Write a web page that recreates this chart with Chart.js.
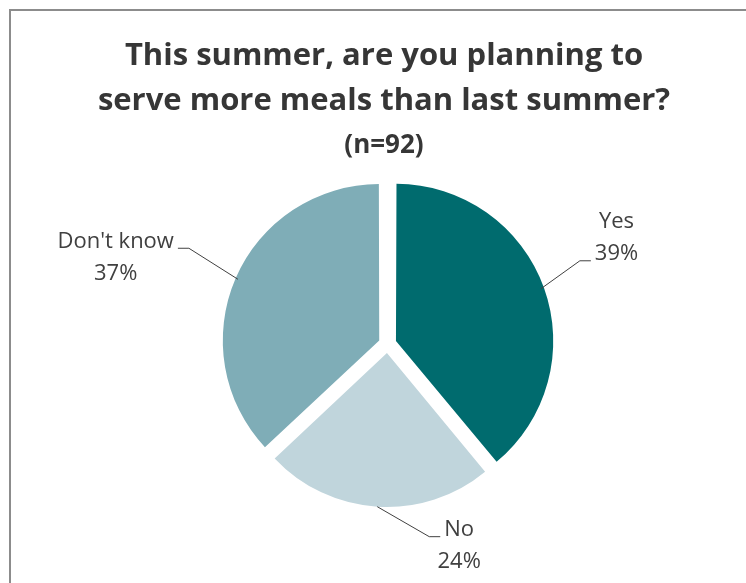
<!DOCTYPE html>
<html>
<head>
<meta charset="utf-8">
<script src="https://cdn.jsdelivr.net/npm/chart.js@4/dist/chart.umd.min.js"></script>
<style>
html, body { margin: 0; padding: 0; background: #fff; }
#wrap { position: relative; width: 746px; height: 583px; overflow: hidden; }
#frame { position: absolute; left: 9px; top: 9px; width: 800px; height: 650px;
         border-left: 2px solid #8c8c8c; border-top: 2px solid #8c8c8c; }
#pieChart { position: absolute; left: 0; top: 0; }
</style>
</head>
<body>
<div id="wrap">
  <div id="frame"></div>
  <canvas id="pieChart" width="746" height="583"></canvas>
</div>
<script>
var labels = ['Yes', 'No', "Don't know"];
var percents = [39, 24, 37];
var colors = ['#006b6e', '#c0d5dc', '#7fadb7'];
var titleLines = ['This summer, are you planning to', 'serve more meals than last summer?'];
var subtitle = '(n=92)';

// where each callout bends, relative to the slice edge, and which text row the line meets
var callouts = [
    { dx: 39, dy: -28, side: 1, row: 1 },
    { dx: 52, dy: 30, side: 1, row: 0 },
    { dx: -49, dy: -31, side: -1, row: 0 }
];

var textColor = '#404040';
var labelFont = '22px "Open Sans"';

var annotate = {
    id: 'annotate',
    afterDraw: function (chart) {
        var ctx = chart.ctx;
        ctx.save();

        // title
        ctx.fillStyle = '#363636';
        ctx.textAlign = 'center';
        ctx.textBaseline = 'alphabetic';
        ctx.font = 'bold 31px "Open Sans"';
        ctx.fillText(titleLines[0], 384, 65);
        ctx.fillText(titleLines[1], 384, 110);
        ctx.font = 'bold 26px "Open Sans"';
        ctx.fillText(subtitle, 384, 153);

        // data labels with leader lines
        var meta = chart.getDatasetMeta(0);
        ctx.font = labelFont;
        ctx.strokeStyle = '#404040';
        ctx.lineWidth = 1;
        meta.data.forEach(function (arc, i) {
            var p = arc.getProps(['x', 'y', 'startAngle', 'endAngle', 'outerRadius'], true);
            var mid = (p.startAngle + p.endAngle) / 2;
            var shift = (arc.options.offset || 0) / 4;
            var cx = p.x + Math.cos(mid) * shift;
            var cy = p.y + Math.sin(mid) * shift;
            var sx = cx + Math.cos(mid) * p.outerRadius;
            var sy = cy + Math.sin(mid) * p.outerRadius;
            var c = callouts[i];
            var ex = sx + c.dx, ey = sy + c.dy;
            var hx = ex + c.side * 11;

            ctx.beginPath();
            ctx.moveTo(sx, sy);
            ctx.lineTo(ex, ey);
            ctx.lineTo(hx, ey);
            ctx.stroke();

            var rows = [labels[i], percents[i] + '%'];
            var w = ctx.measureText(rows[c.row]).width;
            var centerX = c.side > 0 ? hx + 4 + w / 2 : hx - 4 - w / 2;
            ctx.fillStyle = textColor;
            ctx.textAlign = 'center';
            ctx.textBaseline = 'middle';
            rows.forEach(function (t, r) {
                ctx.fillText(t, centerX, ey - 7 + (r - c.row) * 32);
            });
        });
        ctx.restore();
    }
};

new Chart(document.getElementById('pieChart'), {
    type: 'pie',
    data: {
        labels: labels,
        datasets: [{
            data: percents,
            backgroundColor: colors,
            borderWidth: 0,
            offset: 36
        }]
    },
    options: {
        responsive: false,
        devicePixelRatio: 1,
        animation: false,
        radius: 154,
        layout: { padding: { left: 40, right: 11, top: 110, bottom: 5 } },
        plugins: {
            legend: { display: false },
            tooltip: { enabled: false },
            title: { display: false }
        }
    },
    plugins: [annotate]
});
</script>
</body>
</html>
